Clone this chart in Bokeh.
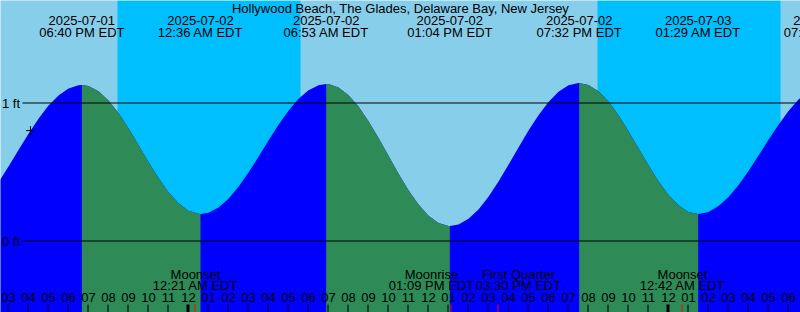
from datetime import datetime, timedelta
from bokeh.plotting import figure
from bokeh.models import Range1d
from bokeh.core.properties import value
from bokeh.embed import file_html
from bokeh.resources import INLINE

# ---------------- data ----------------
title = "Hollywood Beach, The Glades, Delaware Bay, New Jersey"

tide_times = ["2025-07-01 18:40", "2025-07-02 00:36", "2025-07-02 06:53",
              "2025-07-02 13:04", "2025-07-02 19:32", "2025-07-03 01:29",
              "2025-07-03 07:54"]
tide_heights = [1.130, 0.196, 1.138, 0.109, 1.145, 0.196, 1.130]
tide_types = ["High", "Low", "High", "Low", "High", "Low", "High"]

curve_start = "2025-07-01 14:30"
curve_step_minutes = 30
curve_heights = [
    0.425, 0.540, 0.660, 0.778, 0.886, 0.981, 1.055, 1.105, 1.128,
    1.123, 1.085, 1.018, 0.927, 0.817, 0.696, 0.573, 0.456, 0.354, 0.273, 0.219, 0.197,
    0.205, 0.243, 0.307, 0.393, 0.496, 0.610, 0.728, 0.842, 0.944, 1.030, 1.093, 1.129,
    1.137, 1.113, 1.057, 0.974, 0.868, 0.746, 0.617, 0.488, 0.367, 0.264, 0.183, 0.130, 0.109,
    0.120, 0.161, 0.229, 0.321, 0.431, 0.552, 0.677, 0.800, 0.912, 1.008, 1.081, 1.128, 1.145,
    1.131, 1.085, 1.010, 0.911, 0.796, 0.673, 0.549, 0.433, 0.334, 0.259, 0.211,
    0.196, 0.211, 0.253, 0.319, 0.406, 0.508, 0.619, 0.733, 0.843, 0.942, 1.025, 1.085,
]

now_time = "2025-07-01 16:06"
now_height = 0.80

night_starts = ["2025-07-01 20:27", "2025-07-02 20:27"]
night_ends = ["2025-07-02 05:36", "2025-07-03 05:36"]

moon_times = ["2025-07-02 00:21", "2025-07-02 13:09", "2025-07-02 15:30", "2025-07-03 00:42"]
moon_events = ["Moonset", "Moonrise", "First Quarter", "Moonset"]

level_values = [0, 1]
level_labels = ["0 ft", "1 ft"]

view_start = "2025-07-01 14:36"
view_hours = 40

# ---------------- helpers ----------------
T0 = datetime(2025, 7, 1)


def parse(s):
    return datetime.strptime(s, "%Y-%m-%d %H:%M")


def hrs(s):
    return (parse(s) - T0).total_seconds() / 3600.0


X0 = hrs(view_start)
X1 = X0 + view_hours
PXH = 800.0 / view_hours          # pixels per hour
PXF = 138.0                       # pixels per foot
ZERO_PX = 240.5
Y_TOP = ZERO_PX / PXF
Y_BOT = -(312 - ZERO_PX) / PXF
TY = -4.5                          # text vertical correction (px)

FONT = value("Liberation Sans")
FS = "13px"
SKY = "#87CEEB"
NIGHT = "#00BFFF"
RISE = "#0000FF"
FALL = "#2E8B57"

p = figure(width=800, height=312, x_range=Range1d(X0, X1), y_range=Range1d(Y_BOT, Y_TOP),
           output_backend="svg", toolbar_location=None,
           x_axis_location=None, y_axis_location=None, min_border=0,
           background_fill_color=SKY, border_fill_color=SKY, outline_line_color=None)
p.extra_y_ranges = {"px": Range1d(312, 0)}
p.extra_x_ranges = {"pxx": Range1d(0, 800)}
p.grid.visible = False

# night bands
p.quad(left=[hrs(s) for s in night_starts], right=[hrs(s) for s in night_ends],
       bottom=Y_BOT, top=Y_TOP, fill_color=NIGHT, line_color=None)

# tide curve
t_start = hrs(curve_start)
samp_t = [t_start + i * curve_step_minutes / 60.0 for i in range(len(curve_heights))]
ext_t = [hrs(s) for s in tide_times]

pts = sorted(list(zip(samp_t, curve_heights)) + list(zip(ext_t, tide_heights)))
p.varea(x=[a for a, b in pts], y1=Y_BOT, y2=[b for a, b in pts], fill_color=RISE)

for i in range(len(ext_t) - 1):
    if tide_types[i] == "High" and tide_types[i + 1] == "Low":
        a, b = ext_t[i], ext_t[i + 1]
        xs = [a] + [t for t in samp_t if a < t < b] + [b]
        ys = [tide_heights[i]] + [h for t, h in zip(samp_t, curve_heights) if a < t < b] + [tide_heights[i + 1]]
        p.varea(x=xs, y1=Y_BOT, y2=ys, fill_color=FALL)


def txt(x, y, text, align="center", **kw):
    p.text(x=x, y=[v + TY for v in y], text=text, y_range_name="px", text_font=FONT,
           text_font_size=FS, text_align=align, text_baseline="alphabetic",
           text_color="black", **kw)


# level lines and labels
p.segment(x0=X0 + 22 / PXH, x1=X1, y0=level_values, y1=level_values, line_color="black", line_width=1)
txt([1.5] * len(level_values), [ZERO_PX - PXF * v + 5 for v in level_values], level_labels,
    align="left", x_range_name="pxx")

# "now" marker
p.scatter(x=[hrs(now_time)], y=[now_height], marker="cross", size=9, line_color="black", line_width=1)

# title
txt([400], [12], [title], x_range_name="pxx")

# tide event labels
txt(ext_t, [24] * len(ext_t), [parse(s).strftime("%Y-%m-%d") for s in tide_times])
txt(ext_t, [36] * len(ext_t), [parse(s).strftime("%I:%M %p EDT") for s in tide_times])

# hour ticks and labels
hours = list(range(int(X0) + 1, int(X1) + 1))
half = 0.5 / PXH
hour_labels = [(T0 + timedelta(hours=h)).strftime("%I") for h in hours]
txt(hours, [301.3] * len(hours), hour_labels)
normal = [h for h in hours if h % 24 != 0]
midnight = [h for h in hours if h % 24 == 0]
p.segment(x0=[h - half for h in normal], x1=[h - half for h in normal], y0=304, y1=312,
          y_range_name="px", line_color="black", line_width=1)
p.segment(x0=[h - half for h in midnight], x1=[h - half for h in midnight], y0=304, y1=312,
          y_range_name="px", line_color="black", line_width=3)

# moon events
moon_t = [hrs(s) for s in moon_times]
p.segment(x0=[t - half for t in moon_t], x1=[t - half for t in moon_t], y0=304, y1=312,
          y_range_name="px", line_color="red", line_width=1)
moon_dx = [0, -20, 20, 0]
for t, name, s, dx in zip(moon_t, moon_events, moon_times, moon_dx):
    txt([t], [278.3], [name], x_offset=dx)
    txt([t], [289.5], [parse(s).strftime("%I:%M %p EDT")], x_offset=dx)

open("out.html", "w").write(file_html(p, INLINE))
